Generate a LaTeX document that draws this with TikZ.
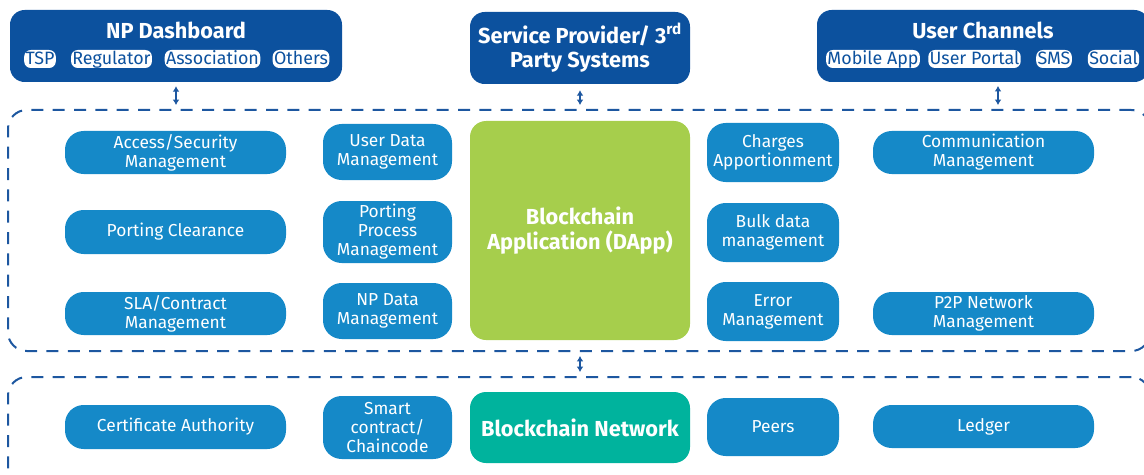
\documentclass[tikz,border=0pt]{standalone}
\usepackage{fontspec}
\setmainfont{Fira Sans}
\usetikzlibrary{arrows.meta,calc}
\definecolor{hdrblue}{HTML}{0C519E}
\definecolor{nodeblue}{HTML}{1589C8}
\definecolor{dappgreen}{HTML}{A6CE4C}
\definecolor{netteal}{HTML}{00B39D}
\definecolor{dashblue}{HTML}{1D57A0}
\tikzset{
  wh/.style 2 args={minimum width=#1*0.75pt, minimum height=#2*0.75pt},
  hdr/.style={fill=hdrblue, rounded corners=11pt, inner sep=0pt},
  hdrtitle/.style={text=white, font=\fontsize{16.3}{18.5}\selectfont\bfseries, inner sep=0pt, align=center},
  pill/.style={fill=white, text=hdrblue, rounded corners=5pt, inner xsep=1pt, inner ysep=1pt, text height=10pt, text depth=1.5pt, font=\fontsize{13.4}{14}\selectfont},
  mod/.style={fill=nodeblue, text=white, rounded corners=14pt, align=center, inner sep=0pt, font=\fontsize{13}{14.3}\selectfont},
  big/.style={rounded corners=12pt, text=white, align=center, inner sep=0pt, font=\fontsize{16.3}{18.5}\selectfont\bfseries},
  region/.style={draw=dashblue, line width=1.5pt, dash pattern=on 9pt off 7pt, rounded corners=14pt, inner sep=0pt},
  link/.style={draw=dashblue, line width=1.6pt, {Latex[length=4pt,width=5pt]}-{Latex[length=4pt,width=5pt]}, shorten <=3pt, shorten >=3pt}
}
\begin{document}
\begin{tikzpicture}[x=0.75pt,y=-0.75pt]
\useasboundingbox (0,0) rectangle (1144,474);
% regions
\node[region, wh={1142}{241}] (upper) at (579,230.5) {};
\node[region, wh={1142}{111}] (lower) at (579,432.5) {};
% header boxes
\node[hdr, wh={332}{72}] (npd) at (176,46) {};
\node[hdrtitle] (npdt) at (176,30) {NP Dashboard};
\node[pill] (tsp) at (40,59) {TSP};
\node[pill] (reg) at (111.5,59) {Regulator};
\node[pill] (assoc) at (212.5,59) {Association};
\node[pill] (oth) at (301,59) {Others};
\node[hdr, wh={220}{72}, hdrtitle] (sp) at (580,48) {Service Provider/ 3\textsuperscript{rd}\\Party Systems};
\node[hdr, wh={332}{72}] (uc) at (983,46) {};
\node[hdrtitle] (uct) at (983,30) {User Channels};
\node[pill] (mob) at (873,59) {Mobile App};
\node[pill] (upo) at (974.5,59) {User Portal};
\node[pill] (sms) at (1054,59) {SMS};
\node[pill] (soc) at (1113.5,59) {Social};
% upper modules
\node[mod, wh={221}{43}] (acc) at (175.5,152.5) {Access/Security\\Management};
\node[mod, wh={221}{44}] (pcl) at (175.5,232) {Porting Clearance};
\node[mod, wh={221}{43}] (sla) at (175.5,313.5) {SLA/Contract\\Management};
\node[mod, wh={129}{56}] (udm) at (387.5,152) {User Data\\Management};
\node[mod, wh={129}{62}] (ppm) at (387.5,232) {Porting\\Process\\Management};
\node[mod, wh={129}{56}] (npdm) at (387.5,311) {NP Data\\Management};
\node[big, fill=dappgreen, wh={220}{219}] (dapp) at (580,230.5) {Blockchain\\Application (DApp)};
\node[mod, wh={132}{59}] (chg) at (773,152.5) {Charges\\Apportionment};
\node[mod, wh={132}{59}] (bulk) at (773,232.5) {Bulk data\\management};
\node[mod, wh={132}{59}] (err) at (773,311.5) {Error\\Management};
\node[mod, wh={221}{43}] (comm) at (983.5,152.5) {Communication\\Management};
\node[mod, wh={221}{43}] (p2p) at (983.5,313.5) {P2P Network\\Management};
% lower modules
\node[mod, wh={221}{44}] (ca) at (175.5,427) {Certificate Authority};
\node[mod, wh={129}{63}] (sc) at (387.5,427.5) {Smart\\contract/\\Chaincode};
\node[big, fill=netteal, wh={220}{71}] (bn) at (580,427.5) {Blockchain Network};
\node[mod, wh={132}{58}] (peers) at (773,427) {Peers};
\node[mod, wh={221}{43}] (led) at (983.5,426.5) {Ledger};
% connectors
\coordinate (ucport) at (998,82);
\draw[link] (npd.south) -- (npd.south |- upper.north);
\draw[link] ([yshift=-1.5pt]sp.south) -- (sp.south |- upper.north);
\draw[link] (ucport) -- (ucport |- upper.north);
\draw[link] (dapp.south |- upper.south) -- (dapp.south |- lower.north);
\end{tikzpicture}
\end{document}
